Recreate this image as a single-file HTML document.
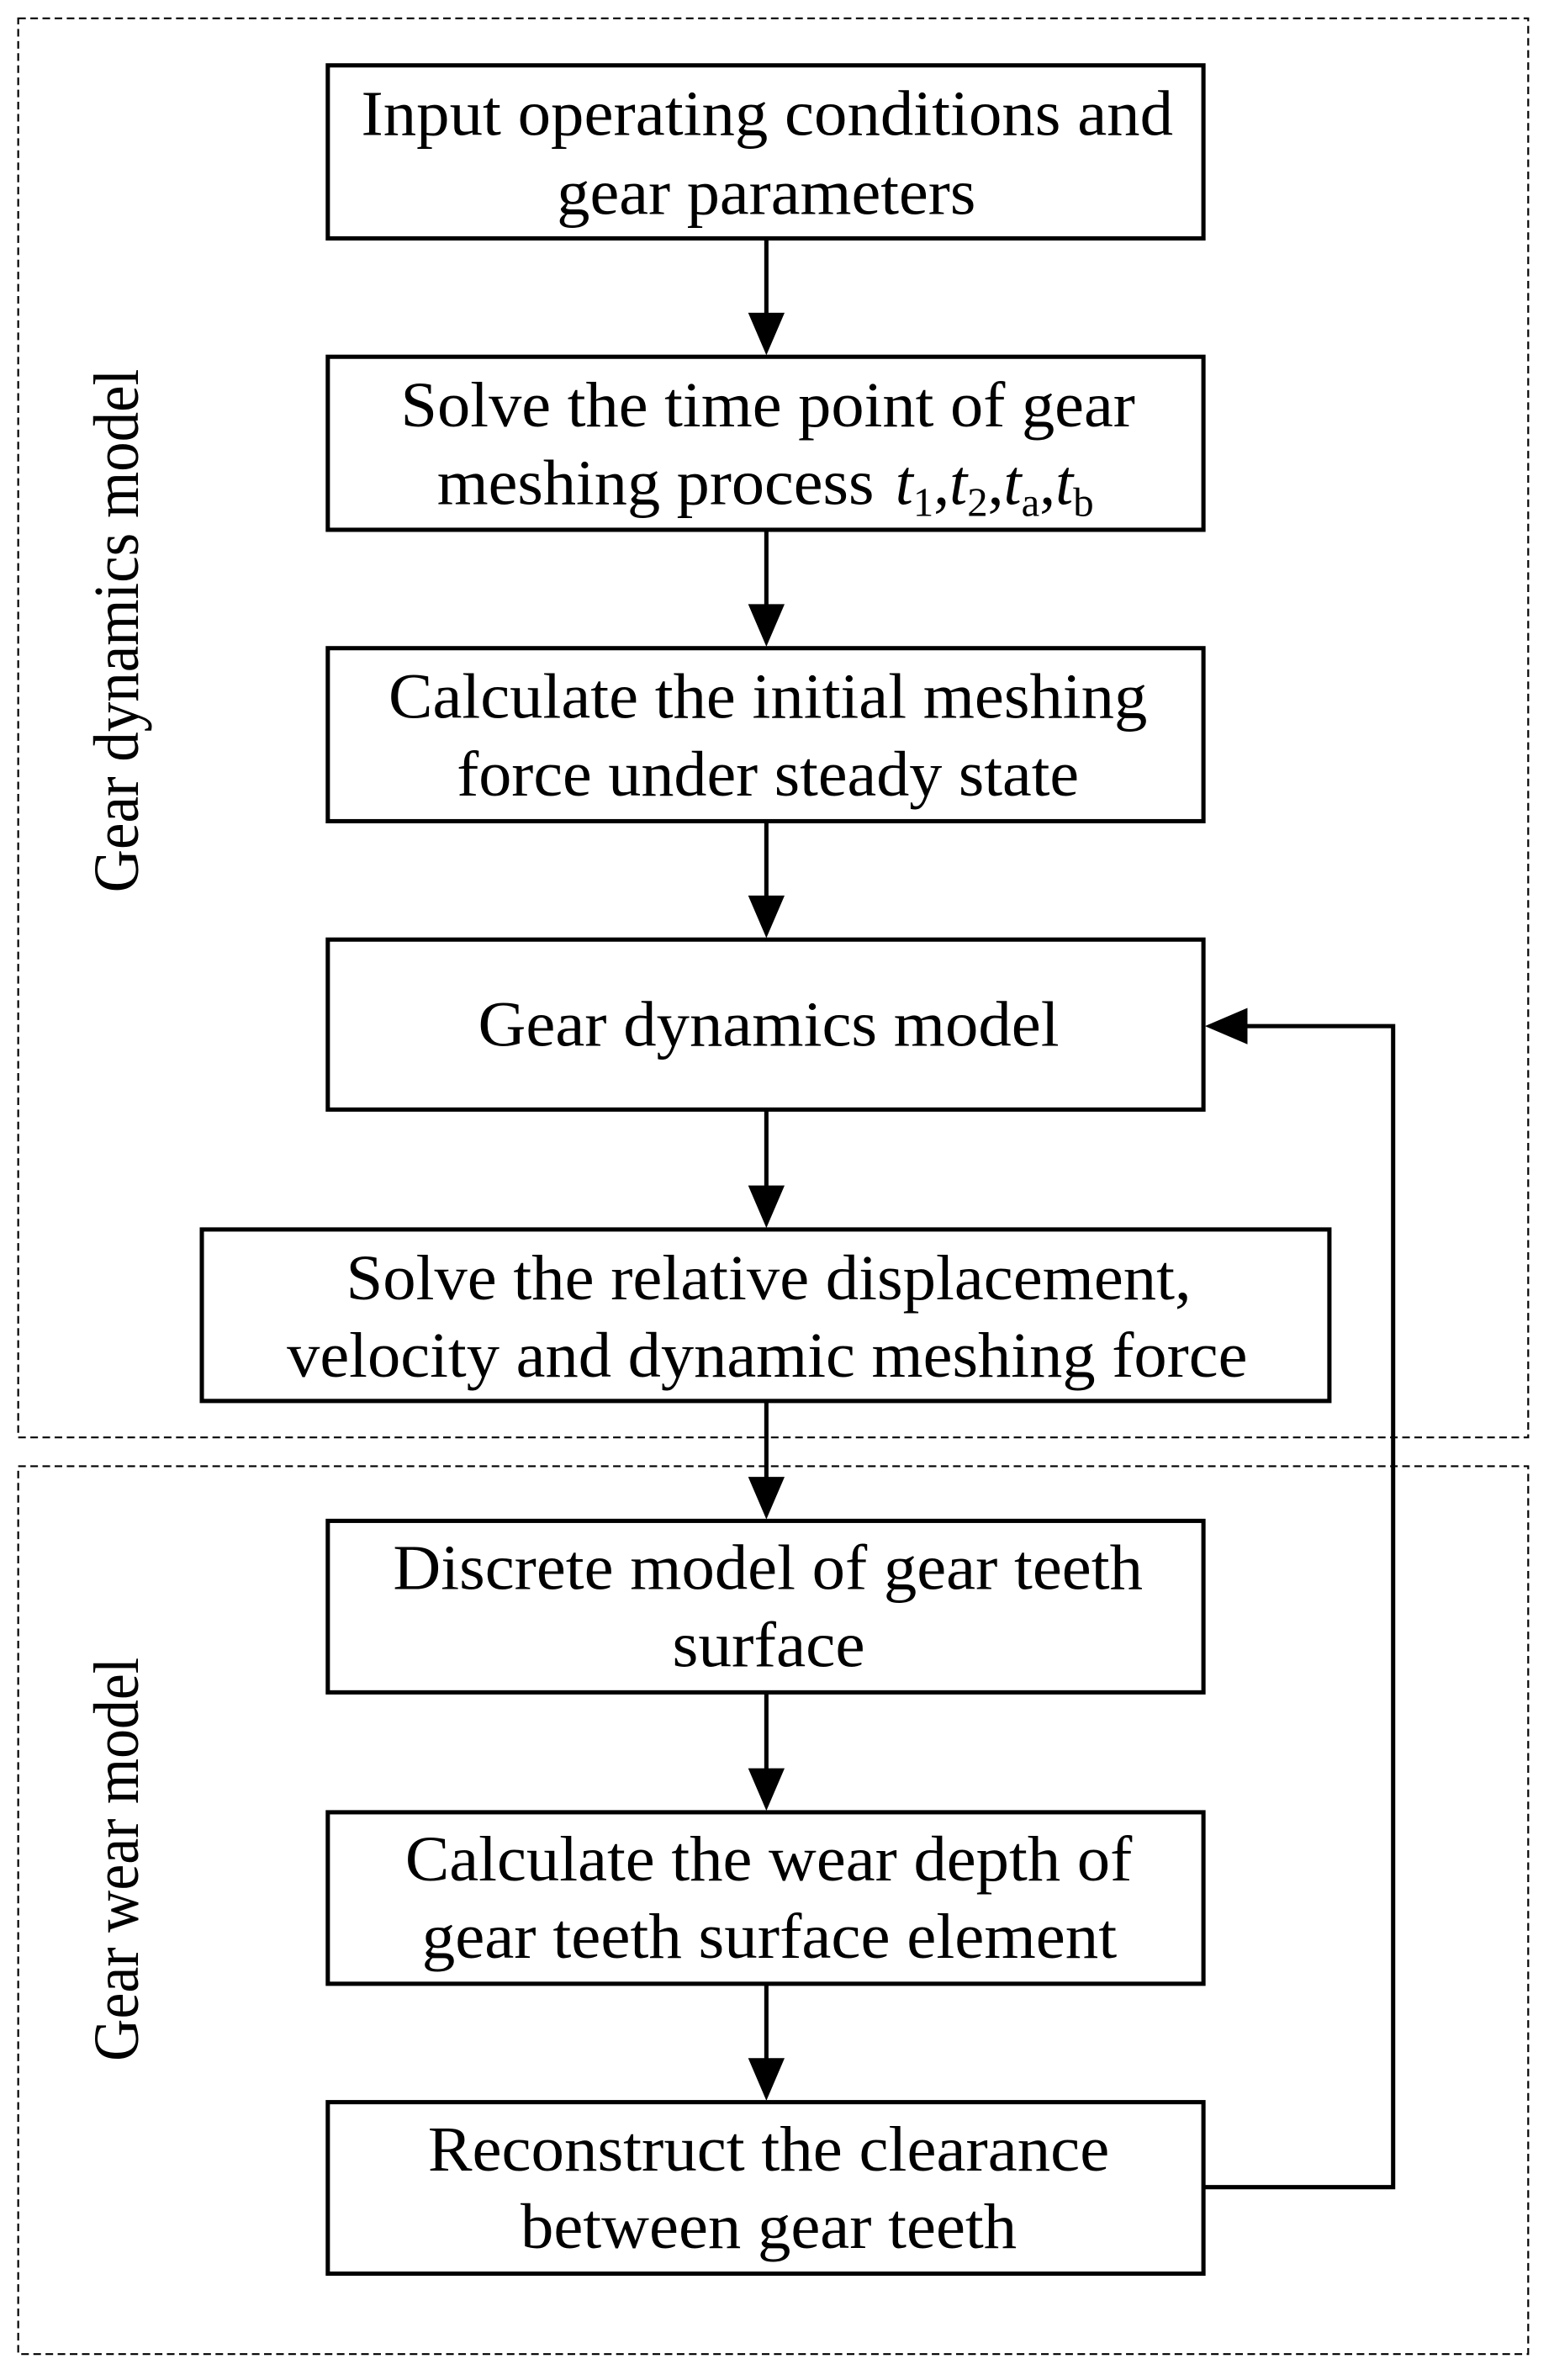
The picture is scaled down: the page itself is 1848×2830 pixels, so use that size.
<!DOCTYPE html>
<html><head><meta charset="utf-8"><style>
html,body{margin:0;padding:0;background:#fff}
svg{display:block}
text{font-family:"Liberation Serif",serif;font-size:42px;fill:#000}
</style></head><body>
<svg width="1848" height="2830" viewBox="0 0 1024 1568" xmlns="http://www.w3.org/2000/svg">
<g fill="none" stroke="#000" stroke-width="1.2" stroke-dasharray="5,3">
<rect x="12" y="12" width="995" height="935"/>
<rect x="12" y="966" width="995" height="585"/>
</g>
<g fill="#fff" stroke="#000" stroke-width="2.8">
<rect x="216" y="43" width="577" height="114"/>
<rect x="216" y="235" width="577" height="114"/>
<rect x="216" y="427" width="577" height="114"/>
<rect x="216" y="619" width="577" height="112"/>
<rect x="133" y="810" width="743" height="113"/>
<rect x="216" y="1002" width="577" height="113"/>
<rect x="216" y="1194" width="577" height="113"/>
<rect x="216" y="1385" width="577" height="113"/>
</g>
<g stroke="#000" stroke-width="2.8" fill="none">
<line x1="505" y1="157" x2="505" y2="208"/>
<line x1="505" y1="349" x2="505" y2="400"/>
<line x1="505" y1="541" x2="505" y2="592"/>
<line x1="505" y1="731" x2="505" y2="783"/>
<line x1="505" y1="923" x2="505" y2="975"/>
<line x1="505" y1="1115" x2="505" y2="1167"/>
<line x1="505" y1="1307" x2="505" y2="1358"/>
<polyline points="793,1441 918,1441 918,676 820,676"/>
</g>
<g fill="#000">
<path d="M493,206 L517,206 L505,234 Z"/>
<path d="M493,398 L517,398 L505,426 Z"/>
<path d="M493,590 L517,590 L505,618 Z"/>
<path d="M493,781 L517,781 L505,809 Z"/>
<path d="M493,973 L517,973 L505,1001 Z"/>
<path d="M493,1165 L517,1165 L505,1193 Z"/>
<path d="M493,1356 L517,1356 L505,1384 Z"/>
<path d="M822,664 L822,688 L794,676 Z"/>
</g>
<g>
<text x="238" y="89" textLength="535" lengthAdjust="spacingAndGlyphs">Input operating conditions and</text>
<text x="367" y="141" textLength="276" lengthAdjust="spacingAndGlyphs">gear parameters</text>
<text x="264" y="281" textLength="484" lengthAdjust="spacingAndGlyphs">Solve the time point of gear</text>
<text x="288" y="332" textLength="288" lengthAdjust="spacingAndGlyphs">meshing process</text>
<text x="590" y="332"><tspan font-style="italic">t</tspan><tspan font-size="27" dy="8">1</tspan><tspan dy="-8">,</tspan><tspan font-style="italic">t</tspan><tspan font-size="27" dy="8">2</tspan><tspan dy="-8">,</tspan><tspan font-style="italic">t</tspan><tspan font-size="27" dy="8">a</tspan><tspan dy="-8">,</tspan><tspan font-style="italic">t</tspan><tspan font-size="27" dy="8">b</tspan></text>
<text x="256" y="473" textLength="500" lengthAdjust="spacingAndGlyphs">Calculate the initial meshing</text>
<text x="301" y="524" textLength="410" lengthAdjust="spacingAndGlyphs">force under steady state</text>
<text x="315" y="689" textLength="383" lengthAdjust="spacingAndGlyphs">Gear dynamics model</text>
<text x="228" y="856" textLength="557" lengthAdjust="spacingAndGlyphs">Solve the relative displacement,</text>
<text x="189" y="907" textLength="633" lengthAdjust="spacingAndGlyphs">velocity and dynamic meshing force</text>
<text x="259" y="1047" textLength="494" lengthAdjust="spacingAndGlyphs">Discrete model of gear teeth</text>
<text x="443" y="1098" textLength="127" lengthAdjust="spacingAndGlyphs">surface</text>
<text x="267" y="1239" textLength="479" lengthAdjust="spacingAndGlyphs">Calculate the wear depth of</text>
<text x="278" y="1290" textLength="458" lengthAdjust="spacingAndGlyphs">gear teeth surface element</text>
<text x="282" y="1430" textLength="449" lengthAdjust="spacingAndGlyphs">Reconstruct the clearance</text>
<text x="343" y="1481" textLength="327" lengthAdjust="spacingAndGlyphs">between gear teeth</text>
<text transform="translate(91,588) rotate(-90)" textLength="345" lengthAdjust="spacingAndGlyphs">Gear dynamics model</text>
<text transform="translate(91,1358) rotate(-90)" textLength="266" lengthAdjust="spacingAndGlyphs">Gear wear model</text>
</g>
</svg>
</body></html>
